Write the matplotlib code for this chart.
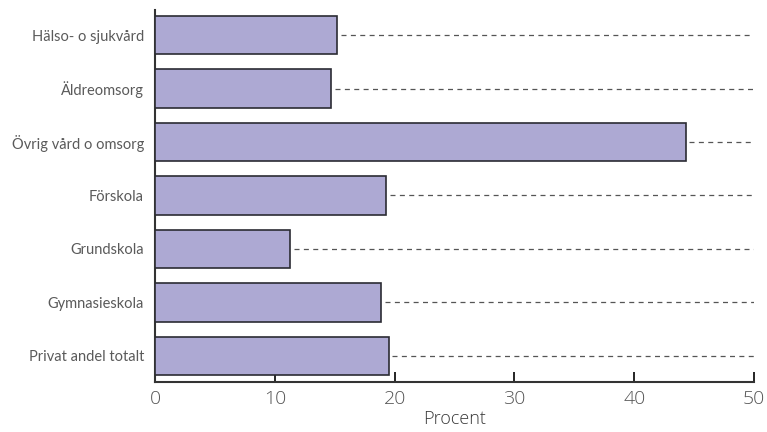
import numpy as np
import matplotlib
matplotlib.use('Agg')
import matplotlib.pyplot as plt

categories = ['Hälso- o sjukvård', 'Äldreomsorg', 'Övrig vård o omsorg', 'Förskola',
              'Grundskola', 'Gymnasieskola', 'Privat andel totalt']
values = [15.2, 14.7, 44.3, 19.3, 11.3, 18.9, 19.5]
xticks = [0, 10, 20, 30, 40, 50]

plt.rcParams['font.family'] = ['Lato', 'DejaVu Sans']

fig = plt.figure(figsize=(7.67, 4.32), dpi=100)
ax = fig.add_axes([155 / 767, 50 / 432, 599 / 767, 372 / 432])

# översta kategorin högst upp
pos = np.arange(len(categories))[::-1]
ax.barh(pos, values, height=0.72, color='#ada9d3', edgecolor='#2b2b33', linewidth=1.2, zorder=3)

# streckade linjer från stapelns slut till högerkanten
for p, v in zip(pos, values):
    ax.plot([v + 0.3, 50], [p, p], color='#555555', linestyle=(0, (4, 3.5)), linewidth=0.9, zorder=2)

ax.set_xlim(0, 50)
ax.set_ylim(-0.49, 6.47)
ax.set_xticks(xticks)
ax.set_yticks(pos)
ax.set_yticklabels(categories, fontsize=10.5, color='#5a5a5a')
ax.tick_params(axis='x', direction='in', length=7, width=1.2, labelsize=14, labelcolor='#555555', pad=6)
ax.tick_params(axis='y', length=0, pad=8)
for lab in ax.get_xticklabels():
    lab.set_family(['Open Sans', 'DejaVu Sans'])
    lab.set_fontweight('light')

ax.spines['top'].set_visible(False)
ax.spines['right'].set_visible(False)
ax.spines['left'].set_linewidth(1.5)
ax.spines['bottom'].set_linewidth(1.5)
ax.spines['left'].set_color('#333333')
ax.spines['bottom'].set_color('#333333')
ax.set_xlabel('Procent', fontsize=13, color='#3a3a3a', labelpad=1)
ax.xaxis.label.set_family(['Open Sans', 'DejaVu Sans'])
ax.xaxis.label.set_fontweight('light')

fig.savefig('out.png', dpi=100)
